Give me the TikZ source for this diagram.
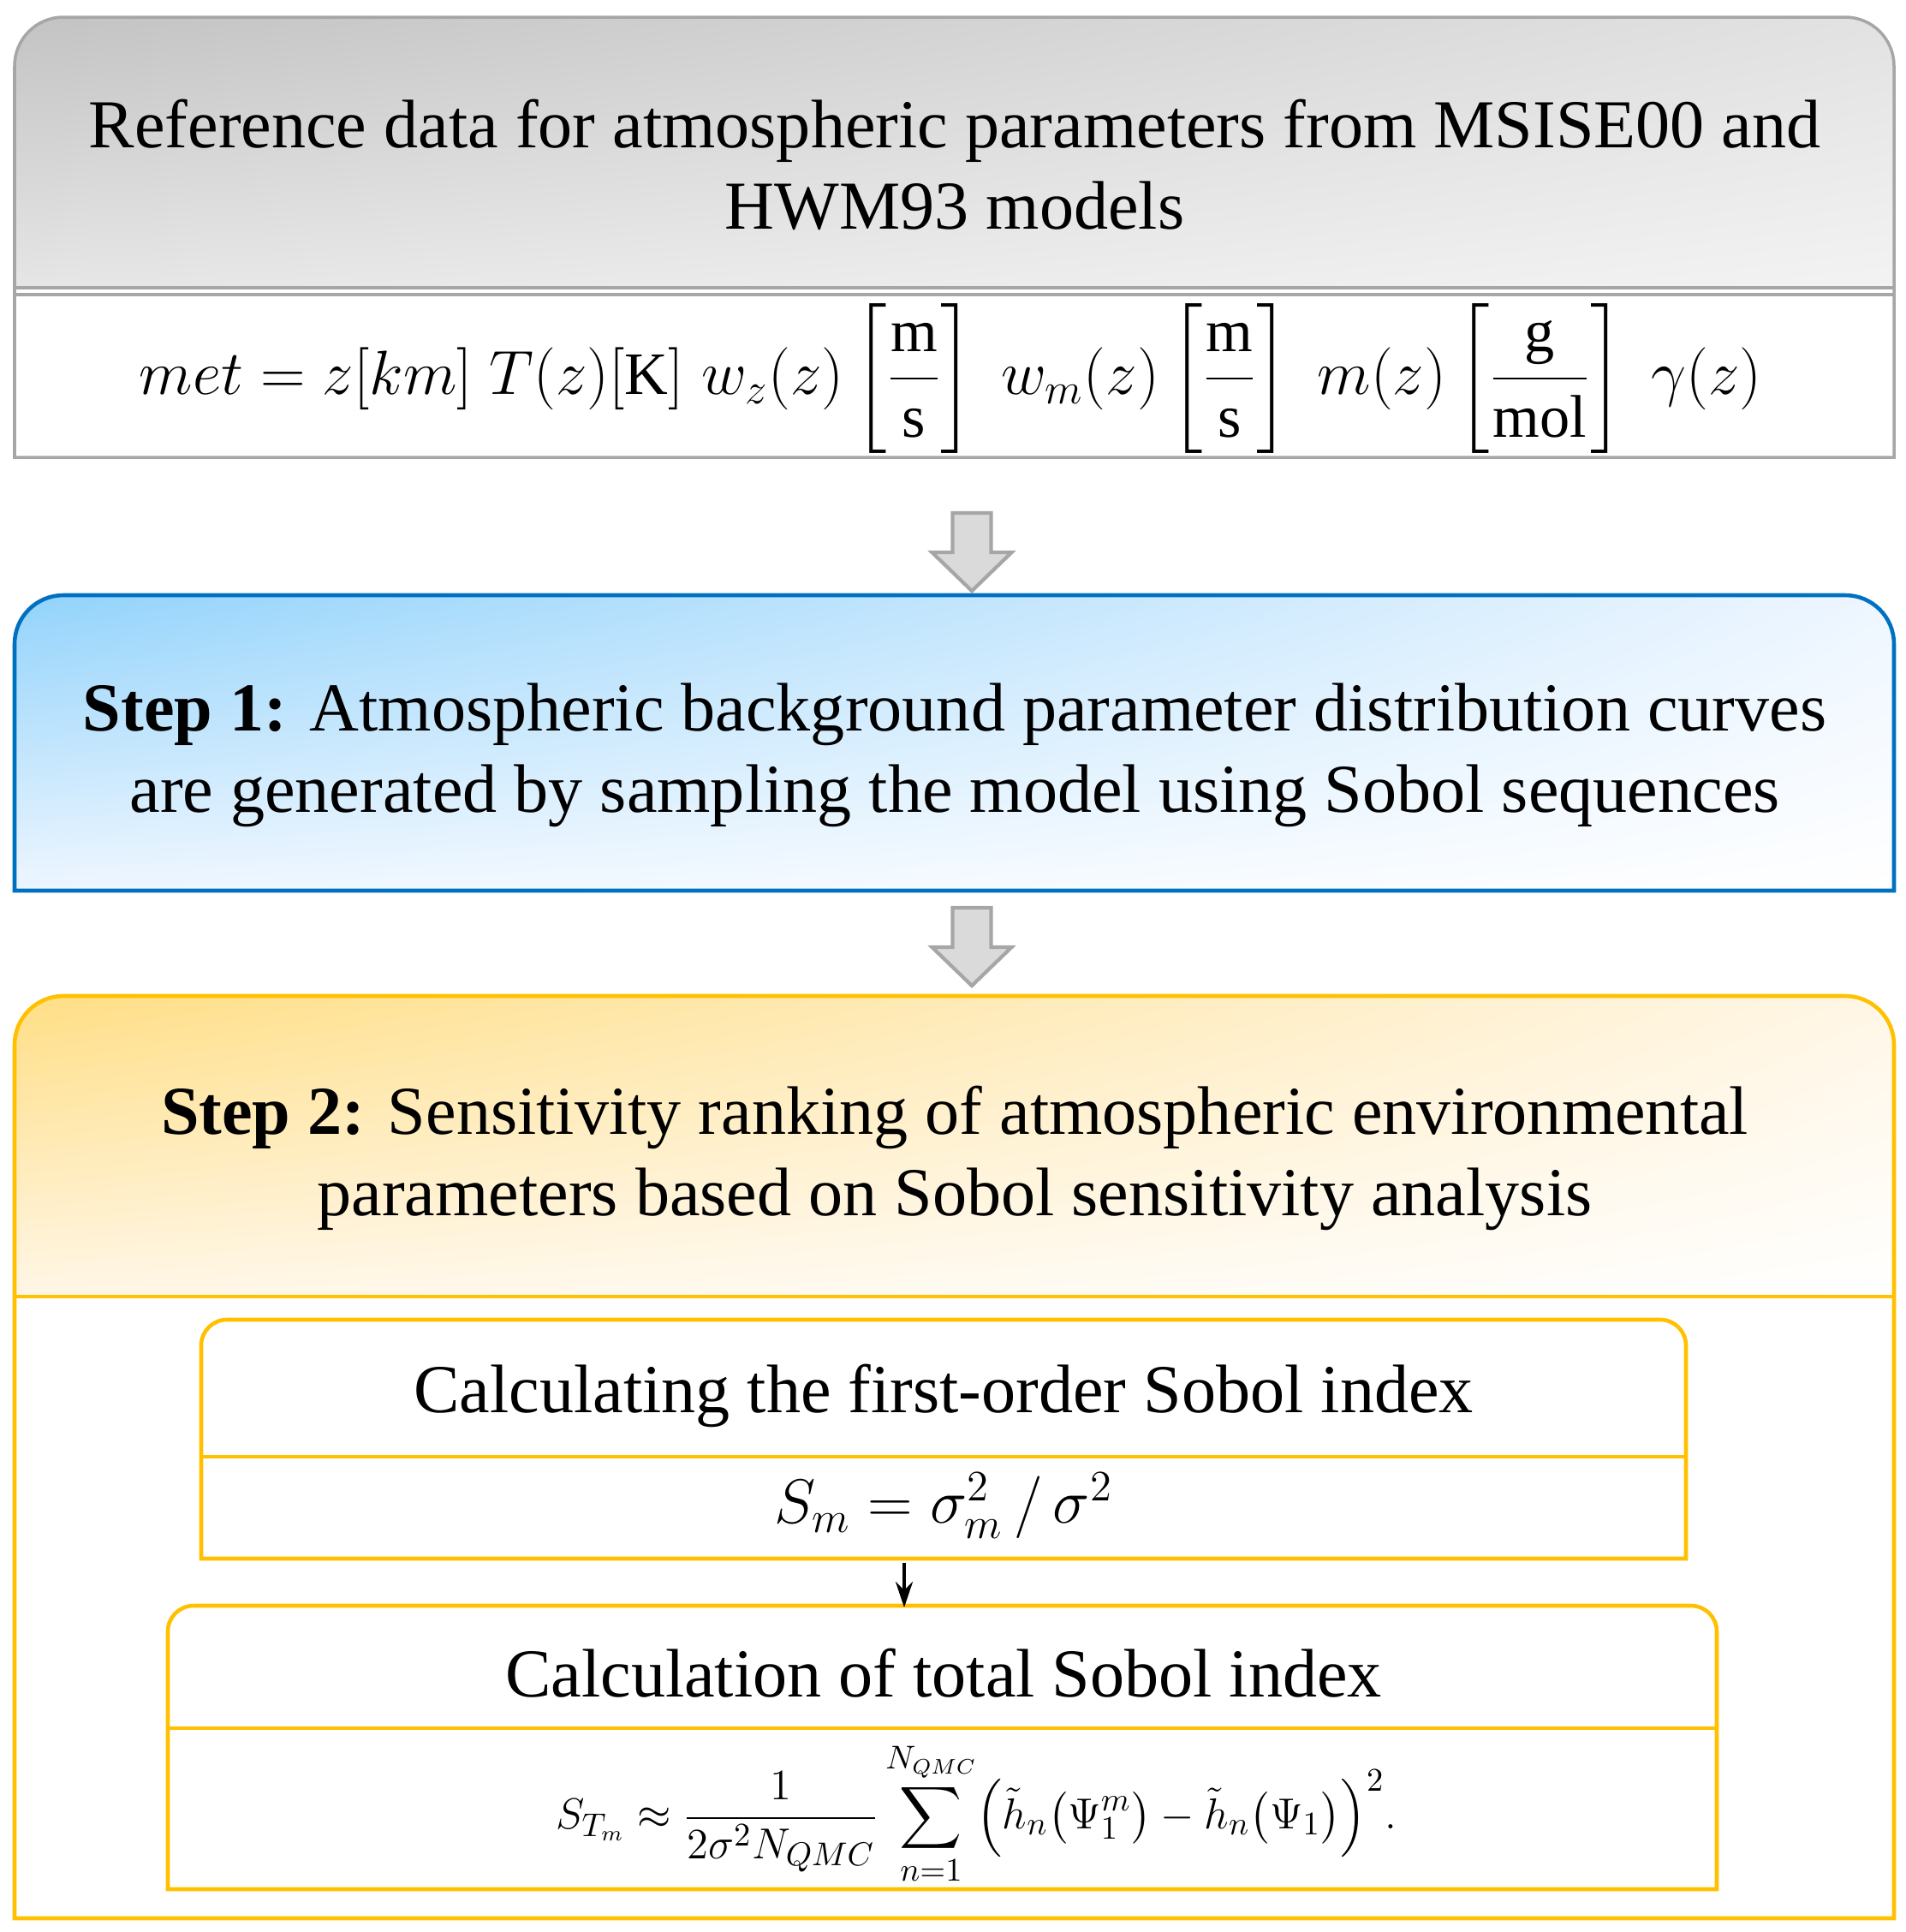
\documentclass[tikz,border=0pt]{standalone}
\usepackage{amsmath}
\usepackage{fontspec}
\setmainfont{Liberation Serif}
\usetikzlibrary{arrows.meta,positioning,calc,shadings}
\definecolor{frmgray}{HTML}{A6A6A6}
\definecolor{frmblue}{HTML}{0070C0}
\definecolor{frmgold}{HTML}{FFC000}
\definecolor{arrfill}{HTML}{DADADA}
\definecolor{grayA}{HTML}{C3C3C3}
\definecolor{grayB}{HTML}{E2E2E2}
\definecolor{grayC}{HTML}{E6E6E6}
\definecolor{grayD}{HTML}{F3F3F3}
\definecolor{blueA}{HTML}{92D3FB}
\definecolor{blueB}{HTML}{EEF6FF}
\definecolor{goldA}{HTML}{FFDE85}
\definecolor{goldB}{HTML}{FFF6E6}
\tikzset{
  grayln/.style={draw=frmgray,line width=1pt},
  blueln/.style={draw=frmblue,line width=1.3pt},
  goldln/.style={draw=frmgold,line width=1.3pt},
  ttl/.style={align=center,inner sep=0pt,font=\fontsize{22.8}{27}\selectfont},
  eqn/.style={inner sep=0pt,font=\fontsize{20}{24}\selectfont},
  blockarr/.style={fill=arrfill,draw=frmgray,line width=1.2pt,line join=miter},
  smallarr/.style={line width=1.2pt,-{Stealth[length=0.3cm,width=0.2cm]}}
}
\newcommand{\blkarrow}[1]{\draw[blockarr] (#1) -- ++(-0.465,0.45) -- ++(0.24,0) -- ++(0,0.46) -- ++(0.45,0) -- ++(0,-0.46) -- ++(0.24,0) -- cycle;}
\newcommand{\unitfr}[2]{\left[\rule[-0.75em]{0pt}{2.1em}\dfrac{\vphantom{g}\mathrm{#1}}{\vphantom{l}\mathrm{#2}}\right]}

\begin{document}
\begin{tikzpicture}
\useasboundingbox (0,0) rectangle (22.26,-22.56);
% reference data box
\shade[upper left=grayA,upper right=grayB,lower left=grayC,lower right=grayD] (0.17,-3.38) [rounded corners=0.57cm] -- (0.17,-0.20) -- (22.12,-0.20) [sharp corners] -- (22.12,-3.38) -- cycle;
\draw[grayln] (0.17,-5.34) [rounded corners=0.57cm] -- (0.17,-0.20) -- (22.12,-0.20) [sharp corners] -- (22.12,-5.34) -- cycle;
\draw[grayln] (0.17,-3.36) -- (22.12,-3.36); \draw[grayln] (0.17,-3.44) -- (22.12,-3.44);
\node[ttl] (refttl) at (11.15,-1.92) {Reference data for atmospheric parameters from MSISE00 and\\HWM93 models};
\node[eqn] (refeq) at (11.10,-4.42) {$met=z[km]\;T(z)[\mathrm{K}]\;w_z(z)\unitfr{m}{s}\;w_m(z)\unitfr{m}{s}\;m(z)\unitfr{g}{mol}\;\gamma(z)$};
\coordinate (tipa) at (11.35,-6.90);
\blkarrow{tipa}
% step 1
\shade[upper left=blueA,upper right=blueB,lower left=blueB,lower right=white] (0.17,-10.40) [rounded corners=0.57cm] -- (0.17,-6.95) -- (22.12,-6.95) [sharp corners] -- (22.12,-10.40) -- cycle;
\draw[blueln] (0.17,-10.40) [rounded corners=0.57cm] -- (0.17,-6.95) -- (22.12,-6.95) [sharp corners] -- (22.12,-10.40) -- cycle;
\node[ttl] (stepa) at (11.15,-8.82) {\textbf{Step 1:} Atmospheric background parameter distribution curves\\are generated by sampling the model using Sobol sequences};
\coordinate (tipb) at (11.35,-11.51);
\blkarrow{tipb}
% step 2
\shade[upper left=goldA,upper right=goldB,lower left=goldB,lower right=white] (0.17,-15.14) [rounded corners=0.57cm] -- (0.17,-11.63) -- (22.12,-11.63) [sharp corners] -- (22.12,-15.14) -- cycle;
\draw[goldln] (0.17,-22.40) [rounded corners=0.57cm] -- (0.17,-11.63) -- (22.12,-11.63) [sharp corners] -- (22.12,-22.40) -- cycle;
\draw[goldln] (0.17,-15.14) -- (22.12,-15.14);
\node[ttl] (stepb) at (11.15,-13.52) {\textbf{Step 2:} Sensitivity ranking of atmospheric environmental\\parameters based on Sobol sensitivity analysis};
% first-order index
\draw[goldln] (2.35,-18.20) [rounded corners=0.3cm] -- (2.35,-15.41) -- (19.69,-15.41) [sharp corners] -- (19.69,-18.20) -- cycle;
\draw[goldln] (2.35,-17.01) -- (19.69,-17.01);
\node[ttl] (first) at (11.02,-16.30) {Calculating the first-order Sobol index};
\node[eqn] (firsteq) at (11.02,-17.58) {$S_m=\sigma_m^2\,/\,\sigma^2$};
% total index
\draw[goldln] (1.96,-22.06) [rounded corners=0.3cm] -- (1.96,-18.75) -- (20.05,-18.75) [sharp corners] -- (20.05,-22.06) -- cycle;
\draw[goldln] (1.96,-20.18) -- (20.05,-20.18);
\node[ttl] (total) at (11.02,-19.54) {Calculation of total Sobol index};
\node[eqn,font=\fontsize{15}{18}\selectfont] (totaleq) at (11.40,-21.18) {$S_{T_m}\approx\dfrac{1}{2\sigma^2N_{QMC}}\displaystyle\sum_{n=1}^{N_{QMC}}\Bigl(\tilde{h}_n\bigl(\Psi_1^m\bigr)-\tilde{h}_n\bigl(\Psi_1\bigr)\Bigr)^2.$};
\coordinate (firstbot) at (10.56,-18.25);
\coordinate (totaltop) at (10.56,-18.77);
\draw[smallarr] (firstbot) -- (totaltop);
\end{tikzpicture}
\end{document}
